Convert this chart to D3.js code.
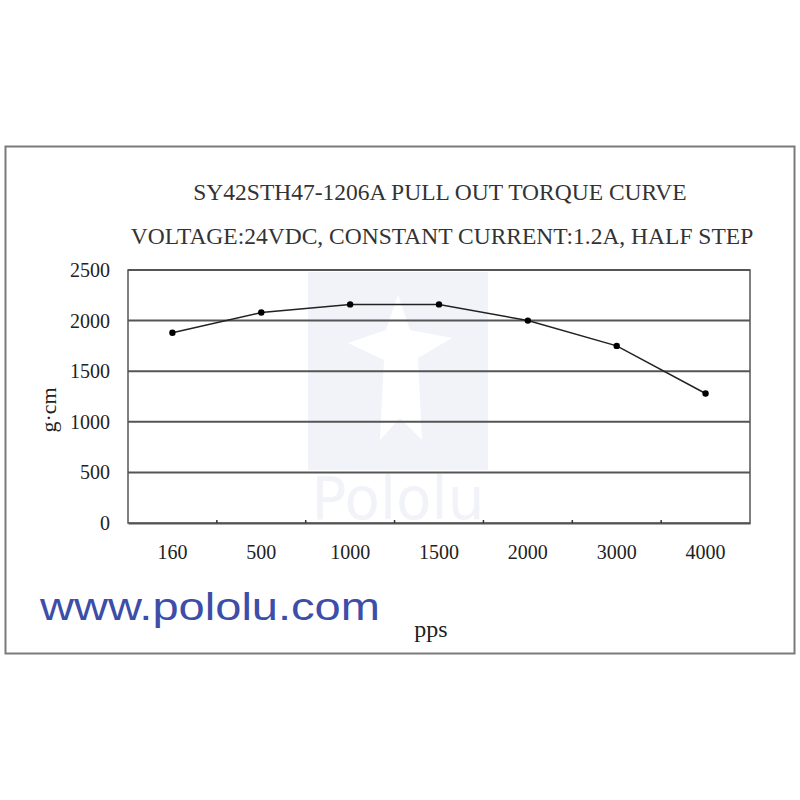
<!DOCTYPE html>
<html><head><meta charset="utf-8">
<script src="https://cdn.jsdelivr.net/npm/d3@7"></script>
<style>html,body{margin:0;padding:0;background:#fff;}</style>
</head><body>
<svg id="c" width="800" height="800"></svg>
<script>
const categories = ["160","500","1000","1500","2000","3000","4000"];
const torque = [1880, 2080, 2160, 2160, 2000, 1750, 1280];
const yTicks = [0, 500, 1000, 1500, 2000, 2500];
const title = "SY42STH47-1206A PULL OUT TORQUE CURVE";
const subtitle = "VOLTAGE:24VDC, CONSTANT CURRENT:1.2A, HALF STEP";
const yLabel = "g·cm";
const xLabel = "pps";
const site = "www.pololu.com";

const svg = d3.select("#c");
const serif = "'Liberation Serif','Times New Roman',serif";
const m = {l:128, r:750, t:270, b:523};

// outer frame
svg.append("rect").attr("x",5.5).attr("y",146.5).attr("width",789).attr("height",507)
  .attr("fill","#fff").attr("stroke","#7a7a7a").attr("stroke-width",2);

const x = d3.scaleBand().domain(categories).range([m.l, m.r]);
const y = d3.scaleLinear().domain([0, 2500]).range([m.b, m.t]);

// watermark
const wm = svg.append("g");
wm.append("rect").attr("x",308).attr("y",272).attr("width",180).attr("height",198).attr("fill","#f1f3f8");
wm.append("path").attr("d","M398,295 L410,330 L452,338 L418,358 L422,440 L400,418 L380,440 L384,360 L348,343 L386,330 Z")
  .attr("fill","#ffffff");
wm.append("text").attr("x",398).attr("y",519).attr("text-anchor","middle")
  .attr("font-family","'DejaVu Sans',sans-serif").attr("font-size",58).attr("fill","#f1f3f8").text("Pololu");

// gridlines
svg.append("g").selectAll("line").data(yTicks.filter(d=>d>0)).join("line")
  .attr("x1",m.l).attr("x2",m.r).attr("y1",d=>y(d)).attr("y2",d=>y(d))
  .attr("stroke","#555").attr("stroke-width",2);

// plot border
svg.append("rect").attr("x",m.l).attr("y",m.t).attr("width",m.r-m.l).attr("height",m.b-m.t)
  .attr("fill","none").attr("stroke","#555").attr("stroke-width",1.5);

// y axis
const ya = svg.append("g").attr("transform",`translate(${m.l},0)`)
  .call(d3.axisLeft(y).tickValues(yTicks).tickFormat(d3.format("d")).tickSize(0).tickPadding(18));
ya.select(".domain").remove();
ya.selectAll("text").attr("font-family",serif).attr("font-size",20).attr("fill","#222");

// x axis
const xa = svg.append("g").attr("transform",`translate(0,${m.b})`)
  .call(d3.axisBottom(x).tickSize(0).tickPadding(22));
xa.select(".domain").attr("stroke","#555").attr("stroke-width",2);
xa.selectAll("text").attr("font-family",serif).attr("font-size",20).attr("fill","#222");
// boundary tick marks
svg.append("g").selectAll("line").data(categories.slice(1)).join("line")
  .attr("x1",d=>x(d)).attr("x2",d=>x(d)).attr("y1",m.b-3).attr("y2",m.b)
  .attr("stroke","#333").attr("stroke-width",1.5);

// line
const line = d3.line().x((d,i)=>x(categories[i])+x.bandwidth()/2).y(d=>y(d));
svg.append("path").datum(torque).attr("d",line).attr("fill","none").attr("stroke","#222").attr("stroke-width",1.5);
svg.append("g").selectAll("circle").data(torque).join("circle")
  .attr("cx",(d,i)=>x(categories[i])+x.bandwidth()/2).attr("cy",d=>y(d)).attr("r",3.2).attr("fill","#000");

// titles
svg.append("text").attr("x",440).attr("y",200).attr("text-anchor","middle")
  .attr("font-family",serif).attr("font-size",23.5).attr("fill","#333").text(title);
svg.append("text").attr("x",442).attr("y",244).attr("text-anchor","middle")
  .attr("font-family",serif).attr("font-size",23.5).attr("fill","#333").text(subtitle);

// axis labels
svg.append("text").attr("transform","translate(56,410) rotate(-90)").attr("text-anchor","middle")
  .attr("font-family",serif).attr("font-size",22).attr("fill","#222").text(yLabel);
svg.append("text").attr("x",431).attr("y",637).attr("text-anchor","middle")
  .attr("font-family",serif).attr("font-size",24).attr("fill","#222").text(xLabel);

// site
svg.append("text").attr("x",40).attr("y",620)
  .attr("font-family","'Liberation Sans','DejaVu Sans',sans-serif").attr("font-size",38)
  .attr("fill","#3d4da8").attr("textLength",340).attr("lengthAdjust","spacingAndGlyphs").text(site);
</script>
</body></html>
